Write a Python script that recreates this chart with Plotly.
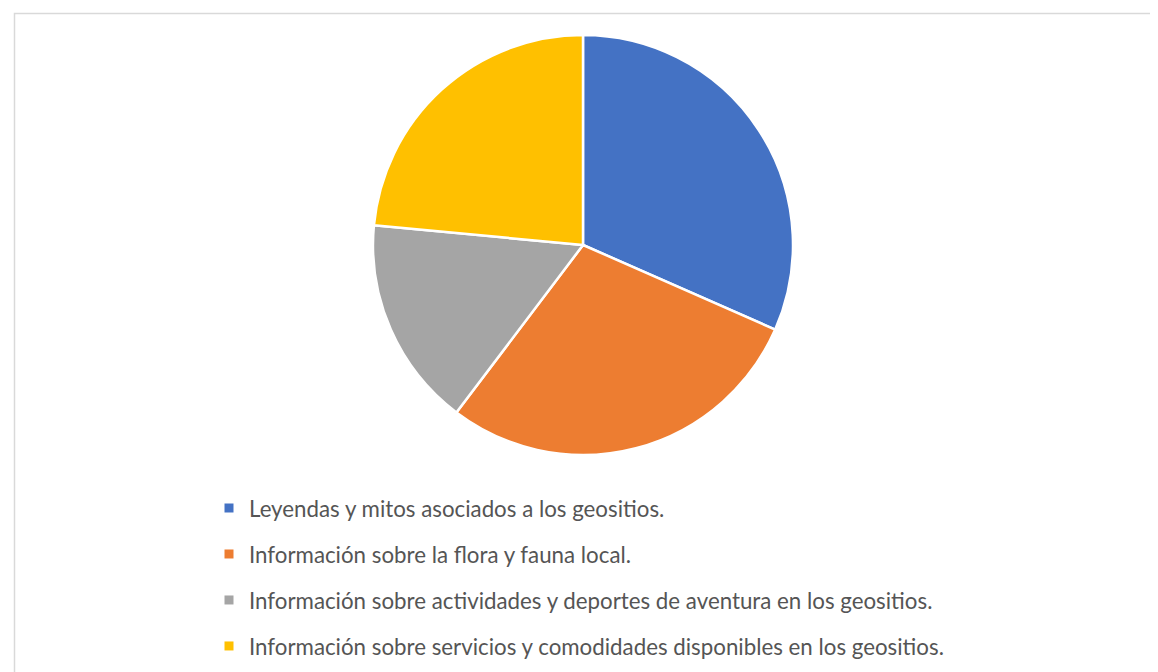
import plotly.graph_objects as go

categorias = [
    'Leyendas y mitos asociados a los geositios.',
    'Información sobre la flora y fauna local.',
    'Información sobre actividades y deportes de aventura en los geositios.',
    'Información sobre servicios y comodidades disponibles en los geositios.',
]
valores = [31.6, 28.7, 16.2, 23.5]
colores = ['#4472C4', '#ED7D31', '#A5A5A5', '#FFC000']

W, H = 1158, 672

fig = go.Figure()

# pastel
fig.add_trace(go.Pie(
    labels=categorias,
    values=valores,
    sort=False,
    direction='clockwise',
    rotation=0,
    marker=dict(colors=colores, line=dict(color='white', width=2.5)),
    textinfo='none',
    hoverinfo='label+percent',
    showlegend=False,
    domain=dict(x=[365 / W, 785 / W], y=[1 - 447 / H, 1 - 27 / H]),
))

# leyenda con separacion entre entradas (un grupo por categoria)
for i, (cat, col) in enumerate(zip(categorias, colores)):
    fig.add_trace(go.Scatter(
        x=[None], y=[None], mode='markers', name=cat,
        legendgroup=f'g{i}',
        marker=dict(symbol='square', size=9, color=col),
        hoverinfo='skip',
    ))

fig.update_layout(
    width=W, height=H,
    margin=dict(l=0, r=0, t=0, b=0),
    paper_bgcolor='white',
    plot_bgcolor='white',
    xaxis=dict(visible=False),
    yaxis=dict(visible=False),
    font=dict(family='Lato', color='#595959'),
    legend=dict(
        x=201 / W, y=1 - 479 / H, xanchor='left', yanchor='top',
        font=dict(size=22.3, color='#555555'),
        bgcolor='rgba(0,0,0,0)',
        tracegroupgap=14,
        itemwidth=30,
    ),
    shapes=[dict(
        type='rect', xref='paper', yref='paper',
        x0=6.5 / W, x1=1.02, y0=-0.02, y1=1 - 5.5 / H,
        line=dict(color='#D9D9D9', width=1.5),
    )],
)

fig.write_html('out.html')
